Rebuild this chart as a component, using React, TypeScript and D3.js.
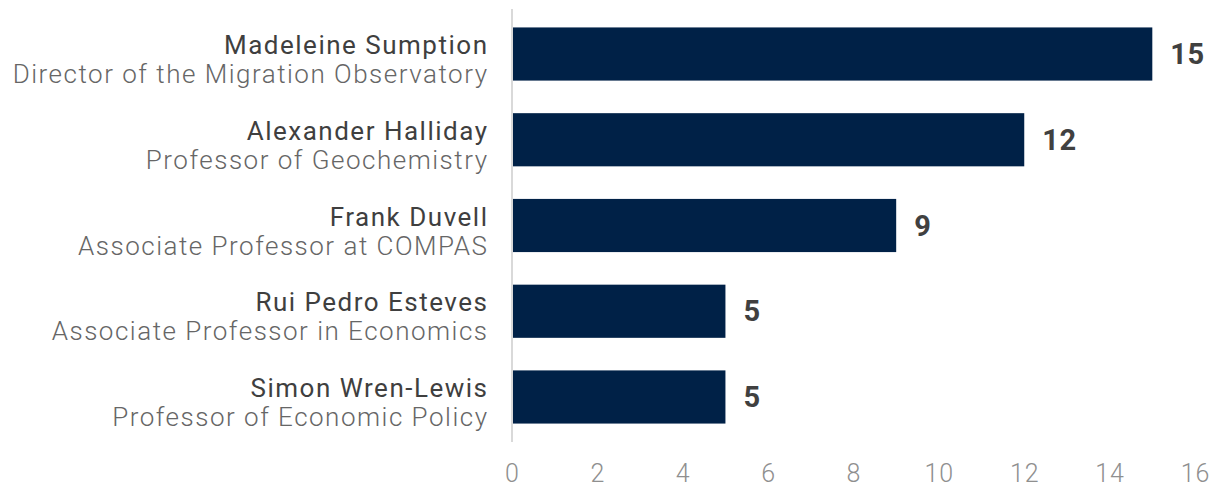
import React from "react";
import * as d3 from "d3";

const names = ["Madeleine Sumption", "Alexander Halliday", "Frank Duvell", "Rui Pedro Esteves", "Simon Wren-Lewis"];
const titles = [
  "Director of the Migration Observatory",
  "Professor of Geochemistry",
  "Associate Professor at COMPAS",
  "Associate Professor in Economics",
  "Professor of Economic Policy",
];
const values = [15, 12, 9, 5, 5];
const xTicks = [0, 2, 4, 6, 8, 10, 12, 14, 16];

const W = 1214;
const H = 488;
const left = 512;
const right = 1195;
const top = 9;
const bottom = 442;

export default function App() {
  const x = d3.scaleLinear().domain([0, 16]).range([left, right]);
  const y = d3
    .scaleBand<number>()
    .domain(d3.range(names.length))
    .range([top, bottom])
    .paddingInner(0.38)
    .paddingOuter(0.215);
  const font = "Roboto, 'DejaVu Sans', sans-serif";
  return (
    <svg
      width={W}
      height={H}
      style={{ position: "absolute", left: 0, top: 0, background: "#fff" }}
      fontFamily={font}
    >
      {values.map((v, i) => {
        const y0 = y(i)!;
        const bw = y.bandwidth();
        const cy = y0 + bw / 2;
        return (
          <g key={i}>
            <rect x={x(0) + 1} y={y0} width={x(v) - x(0) - 1} height={bw} fill="#002147" />
            <text x={x(v) + 18} y={cy + 10} fontSize={29} fontWeight={700} fill="#404040" letterSpacing={0.5}>
              {v}
            </text>
            <text x={488.5} y={cy} textAnchor="end" fontSize={26} fontWeight={400} fill="#3f3f3f" letterSpacing={1.5}>
              {names[i]}
            </text>
            <text x={488.5} y={cy + 29} textAnchor="end" fontSize={26} fontWeight={300} fill="#666" letterSpacing={1.5}>
              {titles[i]}
            </text>
          </g>
        );
      })}
      <line x1={left} x2={left} y1={top} y2={bottom} stroke="#d9d9d9" strokeWidth={2} />
      {xTicks.map((t) => (
        <text key={t} x={x(t) + 0.5} y={482} textAnchor="middle" fontSize={25} fontWeight={300} fill="#8f8f8f" letterSpacing={1}>
          {t}
        </text>
      ))}
    </svg>
  );
}
